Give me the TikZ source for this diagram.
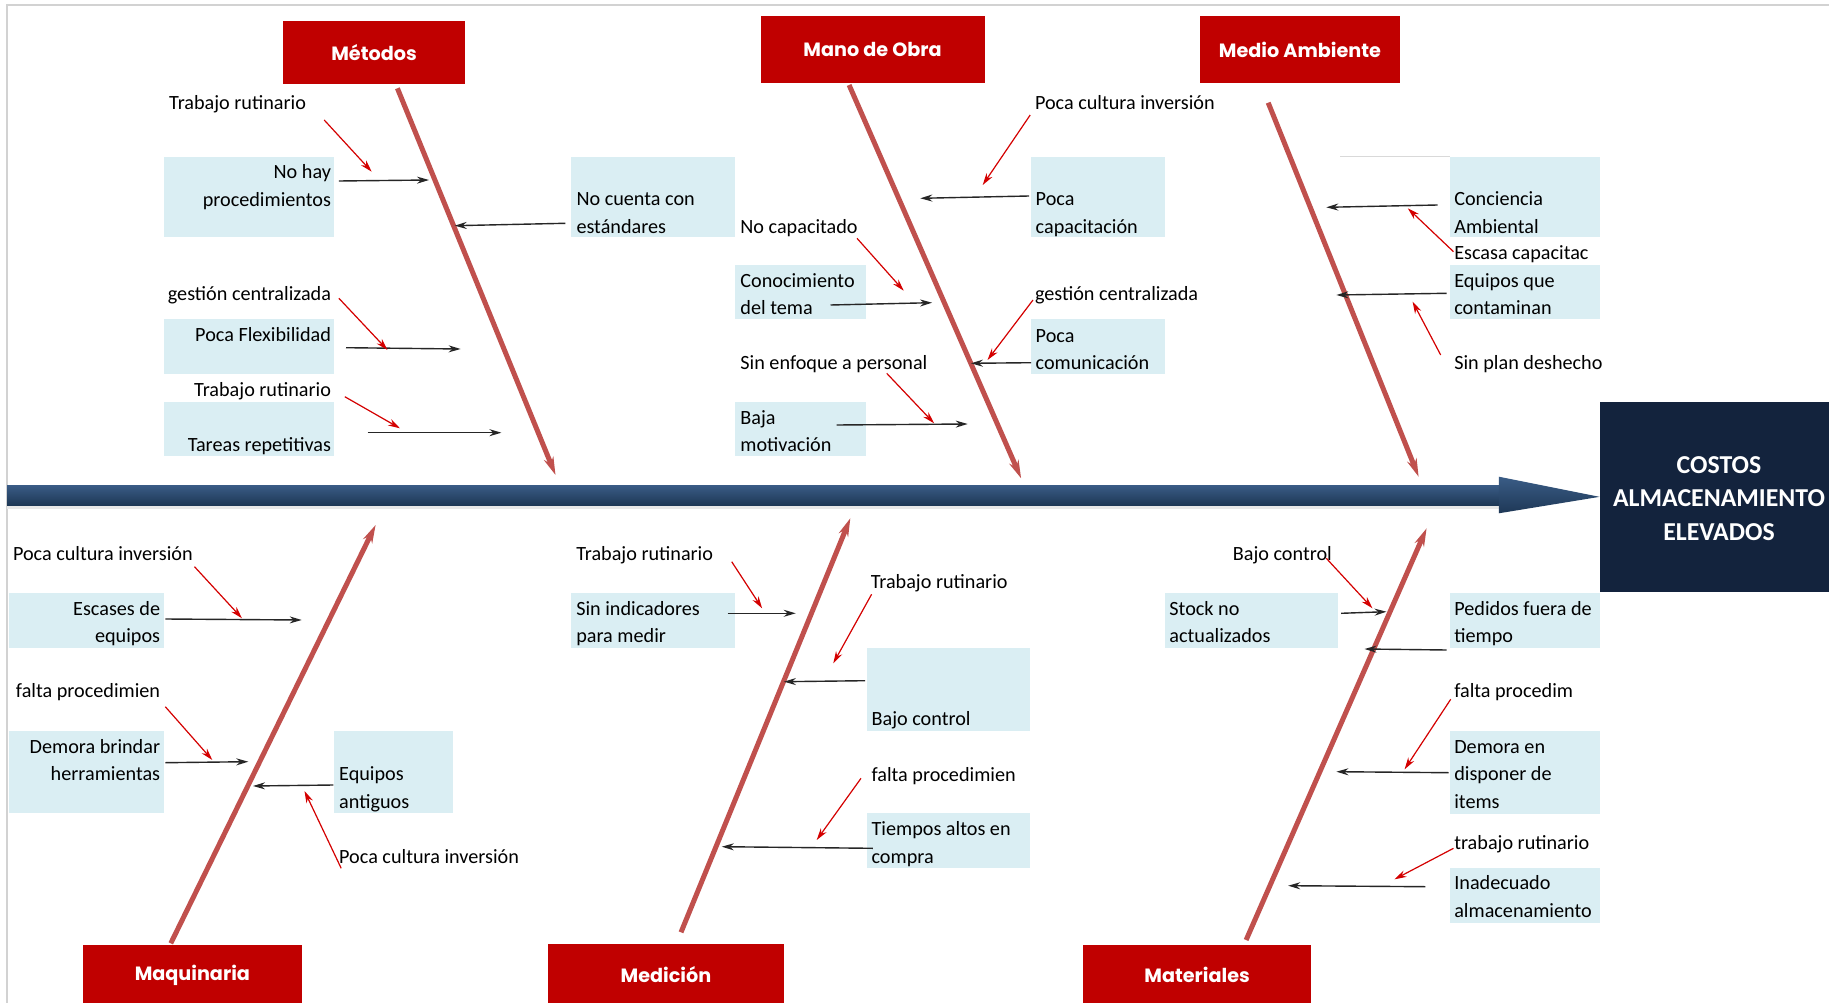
\documentclass[tikz,border=0pt]{standalone}
\usepackage{fontspec}
\setmainfont{Carlito}
\newfontfamily\hdrfont{Poppins}
\usetikzlibrary{arrows.meta}
\definecolor{hdrred}{HTML}{C00000}
\definecolor{cyanbox}{HTML}{DAEEF3}
\definecolor{spinered}{HTML}{C0504D}
\definecolor{arrowred}{HTML}{D40000}
\definecolor{navybox}{HTML}{13233D}
\definecolor{shaftA}{HTML}{3A5C86}
\definecolor{shaftB}{HTML}{6A8DB8}
\definecolor{shaftC}{HTML}{1E3856}
\newcommand\myarrow[4]{\coordinate (#1a) at (#2); \coordinate (#1b) at (#3); \draw[#4] (#1a) -- (#1b);}
\tikzset{
  cbox/.style={fill=cyanbox, inner sep=0pt, outer sep=0pt, anchor=north west},
  txt/.style={font=\fontsize{20.2}{27.5}\selectfont, inner sep=0pt, outer sep=0pt, text=black},
  hdr/.style={fill=hdrred, inner sep=0pt, outer sep=0pt, anchor=north west, text=white, font=\hdrfont\bfseries\fontsize{19.2}{23}\selectfont},
  spine/.style={draw=spinered, line width=5pt, -{Stealth[length=18pt,width=10pt]}},
  blk/.style={draw=black!85, line width=1.4pt, -{Stealth[length=12pt,width=7pt]}},
  redarr/.style={draw=arrowred, line width=1.2pt, -{Stealth[length=12pt,width=7pt]}},
}
\begin{document}
\begin{tikzpicture}[x=1pt,y=-1pt]
\useasboundingbox (0,0) rectangle (1829,1003);
\fill[white] (0,0) rectangle (1829,1003);
% frame
\draw[gray!35, line width=1.5pt] (7,1003) -- (7,5) -- (1829,5);

% headers
\node[hdr, minimum width=182.7pt, minimum height=63.6pt] (h1) at (282.7,20.7) {Métodos};
\node[hdr, minimum width=224.2pt, minimum height=67.3pt] (h2) at (760.5,16) {Mano de Obra};
\node[hdr, minimum width=200pt, minimum height=67.3pt] (h3) at (1200,16) {Medio Ambiente};
\node[hdr, minimum width=218.7pt, minimum height=60pt] (h4) at (83,945) {Maquinaria};
\node[hdr, minimum width=235.9pt, minimum height=60pt] (h5) at (548,944.3) {Medición};
\node[hdr, minimum width=227.9pt, minimum height=60pt] (h6) at (1083.2,945) {Materiales};

% cyan boxes
\node[cbox, minimum width=170pt, minimum height=80.6pt] (b1) at (164.1,156.7) {};
\node[cbox, minimum width=163.9pt, minimum height=80.6pt] (b2) at (571.3,156.7) {};
\node[cbox, minimum width=170pt, minimum height=54.7pt] (b3) at (164.1,319.3) {};
\node[cbox, minimum width=170pt, minimum height=54.3pt] (b4) at (164.1,401.7) {};
\node[cbox, minimum width=133.6pt, minimum height=80.6pt] (b5) at (1031,156.7) {};
\node[cbox, minimum width=130.9pt, minimum height=54.3pt] (b6) at (735.2,265) {};
\node[cbox, minimum width=133.6pt, minimum height=54.7pt] (b7) at (1031,319.3) {};
\node[cbox, minimum width=130.9pt, minimum height=54.3pt] (b8) at (735.2,401.7) {};
\node[cbox, minimum width=150pt, minimum height=80.6pt] (b9) at (1449.5,156.7) {};
\node[cbox, minimum width=150pt, minimum height=54.3pt] (b10) at (1449.5,265) {};
\node[cbox, minimum width=155.4pt, minimum height=54.4pt] (b11) at (8.7,593.3) {};
\node[cbox, minimum width=155.4pt, minimum height=81.7pt] (b12) at (8.7,731) {};
\node[cbox, minimum width=118.6pt, minimum height=81.7pt] (b13) at (334.1,731) {};
\node[cbox, minimum width=163.9pt, minimum height=54.4pt] (b14) at (571.3,593.3) {};
\node[cbox, minimum width=163.3pt, minimum height=82.4pt] (b15) at (866.9,648.3) {};
\node[cbox, minimum width=163.3pt, minimum height=54.4pt] (b16) at (866.9,813.3) {};
\node[cbox, minimum width=173pt, minimum height=54.4pt] (b17) at (1165.4,593.3) {};
\node[cbox, minimum width=150pt, minimum height=54.4pt] (b18) at (1449.5,593.3) {};
\node[cbox, minimum width=150pt, minimum height=83pt] (b19) at (1449.5,731) {};
\node[cbox, minimum width=150pt, minimum height=54.4pt] (b20) at (1449.5,868.3) {};
\draw[gray!30, line width=1pt] (1340,157) -- (1449.5,157);

% effect box
\node[fill=navybox, inner sep=0pt, outer sep=0pt, anchor=north west, minimum width=229.5pt, minimum height=190.3pt] (eff) at (1599.5,401.7) {};
\node[align=center, text=white, inner sep=0pt, font=\fontsize{25.8}{33.5}\selectfont\bfseries] (efft) at (1719,498.5) {COSTOS\\ALMACENAMIENTO\\ELEVADOS};

% main spine
\fill[gray!18] (7,505) rectangle (1499,509);
\shade[top color=shaftA, middle color=shaftB, bottom color=shaftC] (7,485) rectangle (1500,505);
\shade[top color=shaftA, middle color=shaftB, bottom color=shaftC] (1498.8,476.7) -- (eff.west) -- (1498.8,513.3) -- cycle;

% category spines
\myarrow{s1}{397.4,88.3}{555.5,475}{spine}
\myarrow{s2}{849.1,85}{1021.1,478.3}{spine}
\myarrow{s3}{1268.2,102.7}{1418.6,476.7}{spine}
\myarrow{s4}{170.8,943.3}{375.6,525}{spine}
\myarrow{s5}{681,932.3}{850.3,518.3}{spine}
\myarrow{s6}{1246.1,940}{1426.6,528.3}{spine}

% texts - Metodos (multi-line nodes: base = last line)
\node[txt, anchor=base west] (t1) at (169.2,109.2) {Trabajo rutinario};
\node[txt, anchor=base east, align=right] (x1) at (331,206.5) {No hay\\procedimientos};
\node[txt, anchor=base west, align=left] (x2) at (576.5,233.2) {No cuenta con\\estándares};
\node[txt, anchor=base east] (t2) at (331,300.8) {gestión centralizada};
\node[txt, anchor=base east] (x3) at (331,341.5) {Poca Flexibilidad};
\node[txt, anchor=base east] (t3) at (331,396.5) {Trabajo rutinario};
\node[txt, anchor=base east] (x4) at (331,451.5) {Tareas repetitivas};

% Mano de obra
\node[txt, anchor=base west] (t4) at (1035,109.2) {Poca cultura inversión};
\node[txt, anchor=base west, align=left] (x5) at (1035.7,233.2) {Poca\\capacitación};
\node[txt, anchor=base west] (t5) at (740.4,233.2) {No capacitado};
\node[txt, anchor=base west, align=left] (x6) at (740.4,314.8) {Conocimiento\\del tema};
\node[txt, anchor=base west] (t6) at (1035,300.8) {gestión centralizada};
\node[txt, anchor=base west, align=left] (x7) at (1035.7,369.8) {Poca\\comunicación};
\node[txt, anchor=base west] (t7) at (740.4,369.2) {Sin enfoque a personal};
\node[txt, anchor=base west, align=left] (x8) at (740.4,451.5) {Baja\\motivación};

% Medio ambiente
\node[txt, anchor=base west, align=left] (x9) at (1454.3,233.2) {Conciencia\\Ambiental};
\node[txt, anchor=base west] (t9) at (1454.3,259.8) {Escasa capacitac};
\node[txt, anchor=base west, align=left] (x10) at (1454.3,314.8) {Equipos que\\contaminan};
\node[txt, anchor=base west] (t10) at (1454.3,369.2) {Sin plan deshecho};

% Maquinaria
\node[txt, anchor=base west] (t11) at (13,560.5) {Poca cultura inversión};
\node[txt, anchor=base east, align=right] (x11) at (160.1,642.5) {Escases de\\equipos};
\node[txt, anchor=base east] (t12) at (160.1,697.5) {falta procedimien};
\node[txt, anchor=base east, align=right] (x12) at (160.1,780.8) {Demora brindar\\herramientas};
\node[txt, anchor=base west, align=left] (x13) at (339.2,808.2) {Equipos\\antiguos};
\node[txt, anchor=base west] (t13) at (339.2,863.2) {Poca cultura inversión};

% Medicion
\node[txt, anchor=base west] (t14) at (576.3,560.5) {Trabajo rutinario};
\node[txt, anchor=base west, align=left] (x14) at (576.3,642.5) {Sin indicadores\\para medir};
\node[txt, anchor=base west] (t15) at (870.8,588.2) {Trabajo rutinario};
\node[txt, anchor=base west] (x15) at (871.6,725.5) {Bajo control};
\node[txt, anchor=base west] (t16) at (871.6,781.5) {falta procedimien};
\node[txt, anchor=base west, align=left] (x16) at (871.6,863.2) {Tiempos altos en\\compra};

% Materiales
\node[txt, anchor=base west] (t17) at (1232.9,560.5) {Bajo control};
\node[txt, anchor=base west, align=left] (x17) at (1169.4,642.5) {Stock no\\actualizados};
\node[txt, anchor=base west, align=left] (x18) at (1454.3,642.5) {Pedidos fuera de\\tiempo};
\node[txt, anchor=base west] (t18) at (1454.3,697.5) {falta procedim};
\node[txt, anchor=base west, align=left] (x19) at (1454.3,808.2) {Demora en\\disponer de\\items};
\node[txt, anchor=base west] (t19) at (1454.3,849.2) {trabajo rutinario};
\node[txt, anchor=base west, align=left] (x20) at (1454.3,917.2) {Inadecuado\\almacenamiento};

% black arrows
\myarrow{k1}{338.9,181}{429,180}{blk}
\myarrow{k2}{565.4,223.3}{454.7,225.7}{blk}
\myarrow{k3}{346,347.7}{460.6,349}{blk}
\myarrow{k4}{367.7,432.7}{501.4,432.7}{blk}
\myarrow{k5}{1029,196}{920.3,198.3}{blk}
\myarrow{k6}{830.5,305}{932.1,302.7}{blk}
\myarrow{k7}{1031,362.7}{970.9,363.3}{blk}
\myarrow{k8}{836.5,425}{967.7,424}{blk}
\myarrow{k9}{1437.5,205}{1326.3,207.3}{blk}
\myarrow{k10}{1446.7,293.3}{1336.4,295}{blk}
\myarrow{k11}{165.3,619}{301.7,620}{blk}
\myarrow{k12}{165.3,762.7}{248.3,761.7}{blk}
\myarrow{k13}{333.3,785}{253,786}{blk}
\myarrow{k14}{727.7,613.3}{795.7,613.3}{blk}
\myarrow{k15}{865,680.7}{783.9,681.7}{blk}
\myarrow{k16}{872.8,848.3}{721.8,846.7}{blk}
\myarrow{k17}{1341.2,613.3}{1386.5,611.7}{blk}
\myarrow{k18}{1446.7,650}{1364.5,649}{blk}
\myarrow{k19}{1448.7,772.7}{1336.4,771.7}{blk}
\myarrow{k20}{1425.4,886.7}{1288.2,885.7}{blk}

% red arrows
\myarrow{r1}{324.2,120}{371.7,171.7}{redarr}
\myarrow{r2}{338.9,298.3}{387.5,350}{redarr}
\myarrow{r3}{344.8,396.7}{400,428.3}{redarr}
\myarrow{r4}{1030.2,115}{982.7,185}{redarr}
\myarrow{r5}{857,238.3}{903.7,290.7}{redarr}
\myarrow{r6}{1033,300}{987.5,360}{redarr}
\myarrow{r7}{886.7,373.3}{934.1,423.3}{redarr}
\myarrow{r9}{1453.5,251.7}{1407.8,208.3}{redarr}
\myarrow{r10}{1440.7,355}{1412.6,301.7}{redarr}
\myarrow{r11}{194.5,566.7}{242,618.3}{redarr}
\myarrow{r12}{165.3,706.7}{212.3,760}{redarr}
\myarrow{r13}{341.2,868.3}{304.5,791}{redarr}
\myarrow{r14}{731.7,561.7}{762.1,608.3}{redarr}
\myarrow{r15}{871.6,594.3}{833.3,663.3}{redarr}
\myarrow{r16}{861,778.3}{816.7,840}{redarr}
\myarrow{r17}{1326.3,558.3}{1372.5,608.3}{redarr}
\myarrow{r18}{1450.7,699.3}{1404.6,769.3}{redarr}
\myarrow{r19}{1453.5,848.3}{1394.5,879.3}{redarr}
\end{tikzpicture}
\end{document}
